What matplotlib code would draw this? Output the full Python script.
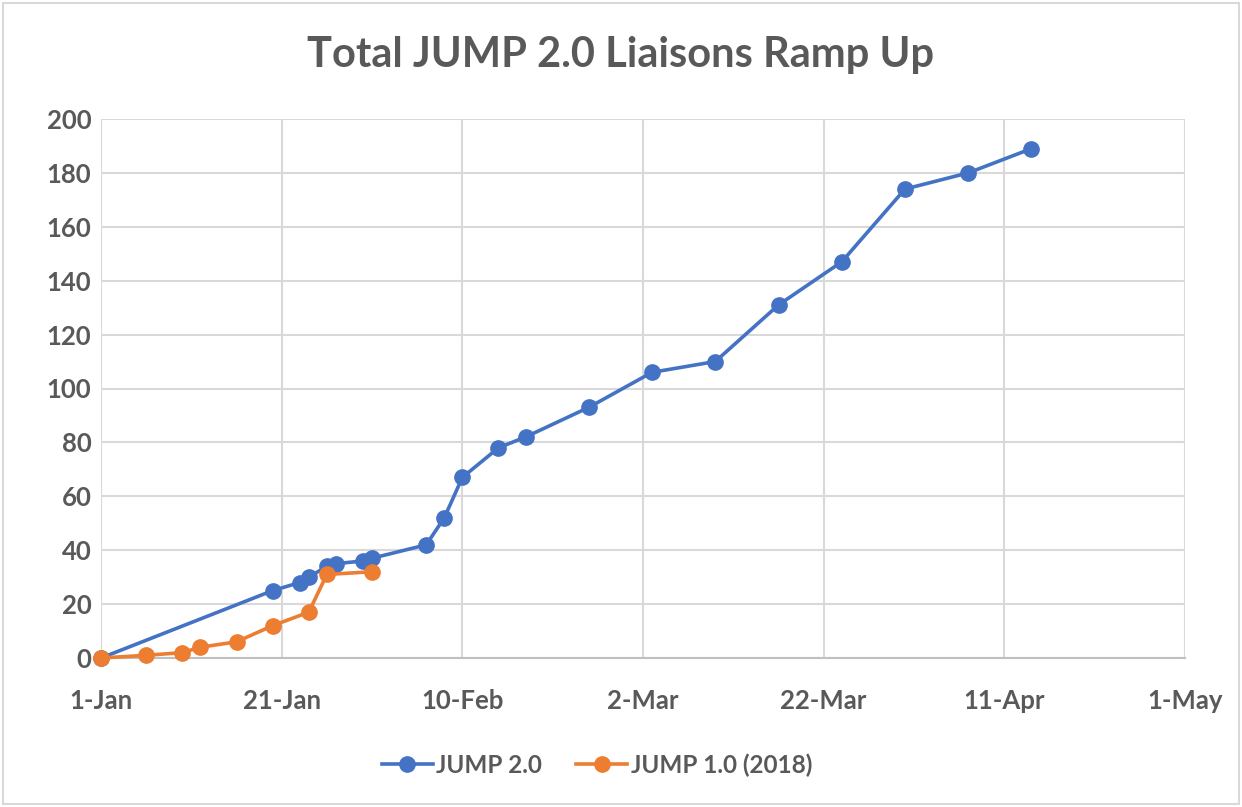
import datetime as dt
import matplotlib
matplotlib.use("Agg")
import matplotlib.pyplot as plt
from matplotlib.patches import Rectangle

plt.rcParams['font.family'] = ['Lato', 'DejaVu Sans']

# JUMP 2.0 (2019)
j2_dates = ["2019-01-01", "2019-01-20", "2019-01-23", "2019-01-24", "2019-01-26",
            "2019-01-27", "2019-01-30", "2019-01-31", "2019-02-06", "2019-02-08",
            "2019-02-10", "2019-02-14", "2019-02-17", "2019-02-24", "2019-03-03",
            "2019-03-10", "2019-03-17", "2019-03-24", "2019-03-31", "2019-04-07",
            "2019-04-14"]
j2_vals = [0, 25, 28, 30, 34, 35, 36, 37, 42, 52, 67, 78, 82, 93, 106,
           110, 131, 147, 174, 180, 189]

# JUMP 1.0 (2018), plotted on the same calendar
j1_dates = ["2019-01-01", "2019-01-06", "2019-01-10", "2019-01-12", "2019-01-16",
            "2019-01-20", "2019-01-24", "2019-01-26", "2019-01-31"]
j1_vals = [0, 1, 2, 4, 6, 12, 17, 31, 32]

tick_dates = ["2019-01-01", "2019-01-21", "2019-02-10", "2019-03-02",
              "2019-03-22", "2019-04-11", "2019-05-01"]
tick_labels = ["1-Jan", "21-Jan", "10-Feb", "2-Mar", "22-Mar", "11-Apr", "1-May"]

to_d = lambda s: dt.datetime.strptime(s, "%Y-%m-%d")

fig = plt.figure(figsize=(12.42, 8.07), dpi=100)
ax = fig.add_axes([101 / 1242, 1 - 658 / 807, (1185 - 101) / 1242, (658 - 119) / 807])

blue = "#4472C4"
orange = "#ED7D31"
txt = "#595959"
grid = "#D9D9D9"

ax.plot([to_d(d) for d in j2_dates], j2_vals, color=blue, lw=2.6, marker="o",
        ms=11, label="JUMP 2.0", zorder=3, clip_on=False)
ax.plot([to_d(d) for d in j1_dates], j1_vals, color=orange, lw=2.6, marker="o",
        ms=11, label="JUMP 1.0 (2018)", zorder=4, clip_on=False)

ax.set_xlim(to_d(tick_dates[0]), to_d(tick_dates[-1]))
ax.set_ylim(0, 200)
ax.set_xticks([to_d(d) for d in tick_dates])
ax.set_xticklabels(tick_labels)
ax.set_yticks(range(0, 201, 20))
ax.grid(True, color=grid, lw=1.5)
ax.set_axisbelow(True)
for s in ["top", "right", "left"]:
    ax.spines[s].set_visible(False)
ax.spines["bottom"].set_color("#BFBFBF")
ax.spines["bottom"].set_linewidth(1.5)
ax.tick_params(length=0, labelsize=18.5, labelcolor=txt)
ax.tick_params(axis="x", pad=22)
ax.tick_params(axis="y", pad=7)
for lab in ax.get_xticklabels() + ax.get_yticklabels():
    lab.set_fontweight("bold")

fig.text(0.5, 1 - 55 / 807, "Total JUMP 2.0 Liaisons Ramp Up", ha="center",
         va="center", fontsize=30, fontweight="bold", color=txt)

leg = fig.legend(loc="center", bbox_to_anchor=(597 / 1242, 1 - 765 / 807), ncol=2,
                 frameon=False, fontsize=17.5, handlelength=2.1, handletextpad=0.15,
                 columnspacing=1.4)
for t in leg.get_texts():
    t.set_color(txt)
    t.set_fontweight("bold")

fig.patches.append(Rectangle((3 / 1242, 3 / 807), 1 - 6 / 1242, 1 - 6 / 807,
                             transform=fig.transFigure, fill=False,
                             edgecolor="#D9D9D9", lw=1.5))

fig.savefig("out.png", dpi=100)
